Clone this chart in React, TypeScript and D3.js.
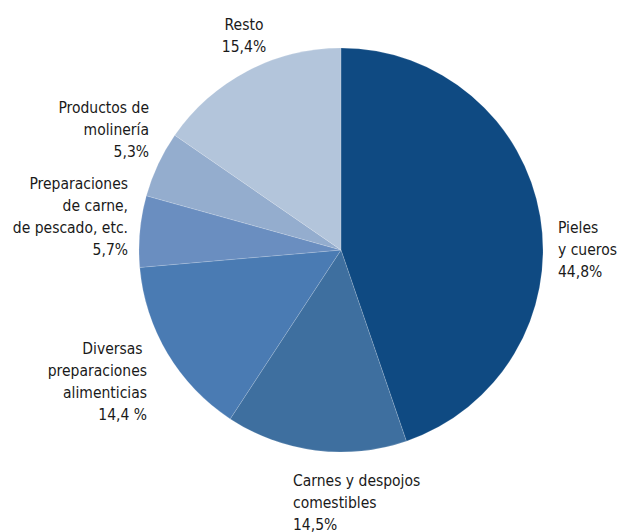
import React from "react";
import * as d3 from "d3";

const categories = ["Pieles y cueros", "Carnes y despojos comestibles", "Diversas preparaciones alimenticias", "Preparaciones de carne, de pescado, etc.", "Productos de molinería", "Resto"];
const values = [44.8, 14.5, 14.4, 5.7, 5.3, 15.4];
const colors = ["#0f4a82", "#3e6f9f", "#4a7bb3", "#6a8ec0", "#94adce", "#b3c5db"];
const labelLines = [
  ["Pieles", "y cueros", "44,8%"],
  ["Carnes y despojos", "comestibles", "14,5%"],
  ["Diversas ", "preparaciones", "alimenticias", "14,4 %"],
  ["Preparaciones", "de carne,", "de pescado, etc.", "5,7%"],
  ["Productos de", "molinería", "5,3%"],
  ["Resto", "15,4%"],
];
// label anchor positions (x, first baseline, anchor)
const labelPos: [number, number, string][] = [
  [558, 233, "start"],
  [293, 486, "start"],
  [147, 354, "end"],
  [128, 189, "end"],
  [149, 113, "end"],
  [244, 30, "middle"],
];

export default function App() {
  const W = 623, H = 532;
  const cx = 341, cy = 250, r = 202;
  const pie = d3.pie<number>().sort(null).value((d) => d)(values);
  const arc = d3.arc<d3.PieArcDatum<number>>().innerRadius(0).outerRadius(r);
  return (
    <svg width={W} height={H} style={{ position: "absolute", left: 0, top: 0 }}>
      <rect width={W} height={H} fill="#fff" />
      <g transform={`translate(${cx},${cy})`}>
        {pie.map((p, i) => (
          <path key={categories[i]} d={arc(p) || ""} fill={colors[i]} stroke="#ffffff" strokeOpacity={0.25} strokeWidth={0.6} />
        ))}
      </g>
      {labelLines.map((lines, i) => (
        <text key={i} x={labelPos[i][0]} y={labelPos[i][1]} textAnchor={labelPos[i][2] as any}
          fontFamily="'DejaVu Sans Condensed', 'DejaVu Sans', sans-serif" fontStretch="condensed" fontSize={15.5} fill="#1a1a1a">
          {lines.map((l, j) => (
            <tspan key={j} x={labelPos[i][0]} y={labelPos[i][1] + j * 22} style={{ whiteSpace: "pre" }}>{l}</tspan>
          ))}
        </text>
      ))}
    </svg>
  );
}
